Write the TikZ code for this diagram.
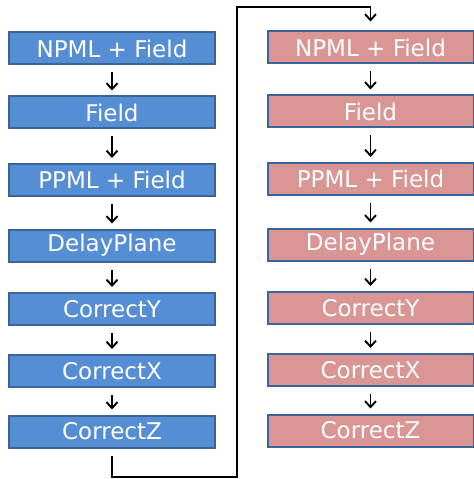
\documentclass[tikz,border=0pt]{standalone}
\usepackage{fontspec}
\setmainfont{DejaVu Sans}
\usetikzlibrary{arrows.meta}
\definecolor{bfill}{HTML}{558ED5}
\definecolor{pfill}{HTML}{D99694}
\definecolor{bline}{HTML}{3A659A}
\tikzset{
  box/.style={draw=bline, line width=2bp, minimum width=206bp, minimum height=32bp, inner sep=0pt,
    text=white, font=\fontsize{23bp}{25bp}\selectfont},
  bluebox/.style={box, fill=bfill},
  pinkbox/.style={box, fill=pfill},
  arr/.style={line width=1.9bp, -{Straight Barb[length=6bp,width=11bp,line width=1.9bp]}},
  link/.style={arr, shorten >=5bp, shorten <=7bp}
}
\begin{document}
\begin{tikzpicture}[x=1bp,y=-1bp]
\useasboundingbox (0,0) rectangle (474,479);
\foreach \n/\y/\t in {1/48.5/NPML + Field, 2/112.5/Field, 3/180/PPML + Field, 4/245.5/DelayPlane, 5/309/CorrectY, 6/371/CorrectX, 7/431.5/CorrectZ}{
  \node[bluebox] (l\n) at (112,\y) {\t};
  \node[pinkbox] (r\n) at (370.5,\y-1) {\t};
}
\foreach \a/\b in {1/2,2/3,3/4,4/5,5/6,6/7}{
  \draw[link] (l\a.south) -- (l\b.north);
  \draw[link] (r\a.south) -- (r\b.north);
}
\coordinate (c1) at (112,477);
\coordinate (c2) at (237,477);
\coordinate (c3) at (237,7);
\coordinate (c4) at (370.5,7);
\draw[arr, line join=miter, shorten <=7bp, shorten >=9bp] (l7.south) -- (c1) -- (c2) -- (c3) -- (c4) -- (r1.north);
\end{tikzpicture}
\end{document}
